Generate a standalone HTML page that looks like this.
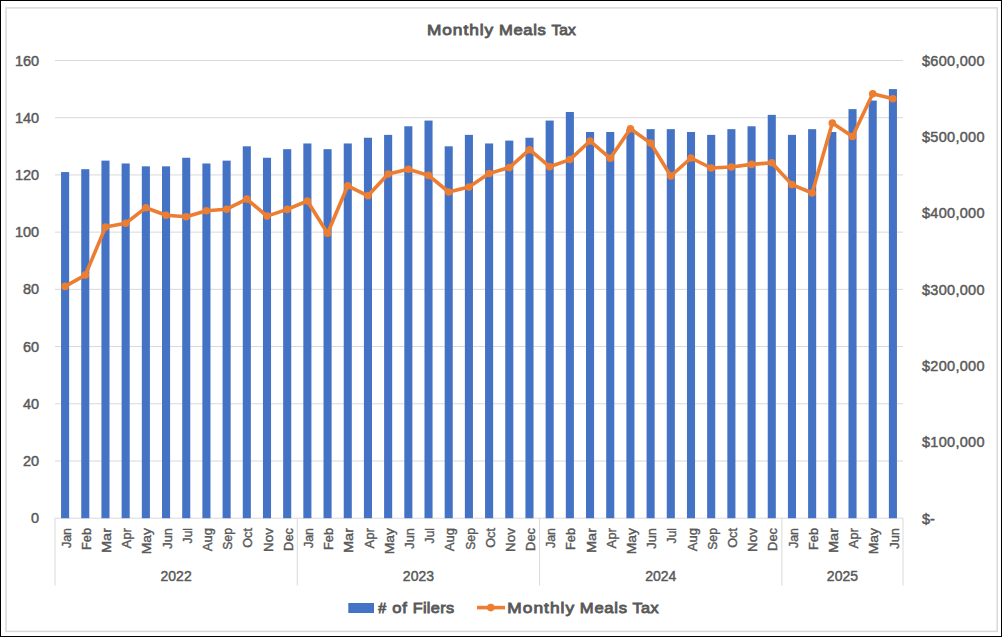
<!DOCTYPE html>
<html><head><meta charset="utf-8"><title>Monthly Meals Tax</title>
<style>
html,body{margin:0;padding:0;background:#fff;}
body{width:1002px;height:637px;overflow:hidden;}
svg{display:block;font-family:"Liberation Sans", sans-serif;}
#w{width:1002px;height:637px;}
text{stroke:#595959;stroke-width:0.45px;}
text.b{stroke-width:0.85px;}
text.m{stroke-width:0.4px;}
</style></head>
<body>
<div id="w">
<svg width="1002" height="637" viewBox="0 0 1002 637">
<rect x="0.5" y="0.5" width="1001" height="636" fill="#fff" stroke="#000" stroke-width="1"/>
<rect x="6" y="7.9" width="991.2" height="623.5" fill="none" stroke="#d9d9d9" stroke-width="1.5"/>
<text class="b" transform="translate(426.88,35.4) scale(1.1139,1)" letter-spacing="0.89" font-size="15.5" fill="#595959">Monthly</text>
<text class="b" transform="translate(498.91,35.4) scale(1.0703,1)" letter-spacing="0.63" font-size="15.5" fill="#595959">Meals</text>
<text class="b" transform="translate(551.58,35.4) scale(1.0011,1)" letter-spacing="0.01" font-size="15.5" fill="#595959">Tax</text>
<line x1="55.0" x2="903.0" y1="460.99" y2="460.99" stroke="#d9d9d9" stroke-width="1"/>
<line x1="55.0" x2="903.0" y1="403.78" y2="403.78" stroke="#d9d9d9" stroke-width="1"/>
<line x1="55.0" x2="903.0" y1="346.56" y2="346.56" stroke="#d9d9d9" stroke-width="1"/>
<line x1="55.0" x2="903.0" y1="289.35" y2="289.35" stroke="#d9d9d9" stroke-width="1"/>
<line x1="55.0" x2="903.0" y1="232.14" y2="232.14" stroke="#d9d9d9" stroke-width="1"/>
<line x1="55.0" x2="903.0" y1="174.93" y2="174.93" stroke="#d9d9d9" stroke-width="1"/>
<line x1="55.0" x2="903.0" y1="117.71" y2="117.71" stroke="#d9d9d9" stroke-width="1"/>
<line x1="55.0" x2="903.0" y1="60.5" y2="60.5" stroke="#d9d9d9" stroke-width="1"/>
<line x1="55.0" x2="903.0" y1="518.2" y2="518.2" stroke="#d9d9d9" stroke-width="1"/>
<line x1="55" x2="55" y1="518.2" y2="585.5" stroke="#d9d9d9" stroke-width="1"/>
<line x1="297.29" x2="297.29" y1="518.2" y2="585.5" stroke="#d9d9d9" stroke-width="1"/>
<line x1="539.57" x2="539.57" y1="518.2" y2="585.5" stroke="#d9d9d9" stroke-width="1"/>
<line x1="781.86" x2="781.86" y1="518.2" y2="585.5" stroke="#d9d9d9" stroke-width="1"/>
<line x1="903" x2="903" y1="518.2" y2="585.5" stroke="#d9d9d9" stroke-width="1"/>
<rect x="61.06" y="172.06" width="8.08" height="346.14" fill="#4472c4"/>
<rect x="81.25" y="169.2" width="8.08" height="349" fill="#4472c4"/>
<rect x="101.44" y="160.62" width="8.08" height="357.58" fill="#4472c4"/>
<rect x="121.63" y="163.48" width="8.08" height="354.72" fill="#4472c4"/>
<rect x="141.82" y="166.34" width="8.08" height="351.86" fill="#4472c4"/>
<rect x="162.01" y="166.34" width="8.08" height="351.86" fill="#4472c4"/>
<rect x="182.2" y="157.76" width="8.08" height="360.44" fill="#4472c4"/>
<rect x="202.39" y="163.48" width="8.08" height="354.72" fill="#4472c4"/>
<rect x="222.58" y="160.62" width="8.08" height="357.58" fill="#4472c4"/>
<rect x="242.77" y="146.32" width="8.08" height="371.88" fill="#4472c4"/>
<rect x="262.96" y="157.76" width="8.08" height="360.44" fill="#4472c4"/>
<rect x="283.15" y="149.18" width="8.08" height="369.02" fill="#4472c4"/>
<rect x="303.34" y="143.46" width="8.08" height="374.74" fill="#4472c4"/>
<rect x="323.53" y="149.18" width="8.08" height="369.02" fill="#4472c4"/>
<rect x="343.72" y="143.46" width="8.08" height="374.74" fill="#4472c4"/>
<rect x="363.91" y="137.74" width="8.08" height="380.46" fill="#4472c4"/>
<rect x="384.1" y="134.88" width="8.08" height="383.32" fill="#4472c4"/>
<rect x="404.3" y="126.29" width="8.08" height="391.91" fill="#4472c4"/>
<rect x="424.49" y="120.57" width="8.08" height="397.63" fill="#4472c4"/>
<rect x="444.68" y="146.32" width="8.08" height="371.88" fill="#4472c4"/>
<rect x="464.87" y="134.88" width="8.08" height="383.32" fill="#4472c4"/>
<rect x="485.06" y="143.46" width="8.08" height="374.74" fill="#4472c4"/>
<rect x="505.25" y="140.6" width="8.08" height="377.6" fill="#4472c4"/>
<rect x="525.44" y="137.74" width="8.08" height="380.46" fill="#4472c4"/>
<rect x="545.63" y="120.57" width="8.08" height="397.63" fill="#4472c4"/>
<rect x="565.82" y="111.99" width="8.08" height="406.21" fill="#4472c4"/>
<rect x="586.01" y="132.02" width="8.08" height="386.18" fill="#4472c4"/>
<rect x="606.2" y="132.02" width="8.08" height="386.18" fill="#4472c4"/>
<rect x="626.39" y="129.16" width="8.08" height="389.04" fill="#4472c4"/>
<rect x="646.58" y="129.16" width="8.08" height="389.04" fill="#4472c4"/>
<rect x="666.77" y="129.16" width="8.08" height="389.04" fill="#4472c4"/>
<rect x="686.96" y="132.02" width="8.08" height="386.18" fill="#4472c4"/>
<rect x="707.15" y="134.88" width="8.08" height="383.32" fill="#4472c4"/>
<rect x="727.34" y="129.16" width="8.08" height="389.04" fill="#4472c4"/>
<rect x="747.53" y="126.29" width="8.08" height="391.91" fill="#4472c4"/>
<rect x="767.72" y="114.85" width="8.08" height="403.35" fill="#4472c4"/>
<rect x="787.91" y="134.88" width="8.08" height="383.32" fill="#4472c4"/>
<rect x="808.1" y="129.16" width="8.08" height="389.04" fill="#4472c4"/>
<rect x="828.3" y="132.02" width="8.08" height="386.18" fill="#4472c4"/>
<rect x="848.49" y="109.13" width="8.08" height="409.07" fill="#4472c4"/>
<rect x="868.68" y="100.55" width="8.08" height="417.65" fill="#4472c4"/>
<rect x="888.87" y="89.11" width="8.08" height="429.09" fill="#4472c4"/>
<polyline points="65.1,286.4 85.29,275.1 105.48,227.1 125.67,223.3 145.86,207.7 166.05,215.2 186.24,216.7 206.43,210.7 226.62,209.2 246.81,199.1 267,216.1 287.19,209.4 307.38,201 327.57,233.2 347.76,185.8 367.95,195.8 388.14,174 408.33,169.2 428.52,175.4 448.71,192 468.9,187.1 489.1,173.5 509.29,167.6 529.48,149.7 549.67,166.7 569.86,159.6 590.05,141 610.24,158.3 630.43,128.8 650.62,143.1 670.81,176 691,158 711.19,168 731.38,167 751.57,164.4 771.76,162.8 791.95,184.6 812.14,193 832.33,123 852.52,136.5 872.71,93.8 892.9,98.8" fill="none" stroke="#ed7d31" stroke-width="3.6" stroke-linejoin="round" stroke-linecap="round"/>
<circle cx="65.1" cy="286.4" r="3.8" fill="#ed7d31"/>
<circle cx="85.29" cy="275.1" r="3.8" fill="#ed7d31"/>
<circle cx="105.48" cy="227.1" r="3.8" fill="#ed7d31"/>
<circle cx="125.67" cy="223.3" r="3.8" fill="#ed7d31"/>
<circle cx="145.86" cy="207.7" r="3.8" fill="#ed7d31"/>
<circle cx="166.05" cy="215.2" r="3.8" fill="#ed7d31"/>
<circle cx="186.24" cy="216.7" r="3.8" fill="#ed7d31"/>
<circle cx="206.43" cy="210.7" r="3.8" fill="#ed7d31"/>
<circle cx="226.62" cy="209.2" r="3.8" fill="#ed7d31"/>
<circle cx="246.81" cy="199.1" r="3.8" fill="#ed7d31"/>
<circle cx="267" cy="216.1" r="3.8" fill="#ed7d31"/>
<circle cx="287.19" cy="209.4" r="3.8" fill="#ed7d31"/>
<circle cx="307.38" cy="201" r="3.8" fill="#ed7d31"/>
<circle cx="327.57" cy="233.2" r="3.8" fill="#ed7d31"/>
<circle cx="347.76" cy="185.8" r="3.8" fill="#ed7d31"/>
<circle cx="367.95" cy="195.8" r="3.8" fill="#ed7d31"/>
<circle cx="388.14" cy="174" r="3.8" fill="#ed7d31"/>
<circle cx="408.33" cy="169.2" r="3.8" fill="#ed7d31"/>
<circle cx="428.52" cy="175.4" r="3.8" fill="#ed7d31"/>
<circle cx="448.71" cy="192" r="3.8" fill="#ed7d31"/>
<circle cx="468.9" cy="187.1" r="3.8" fill="#ed7d31"/>
<circle cx="489.1" cy="173.5" r="3.8" fill="#ed7d31"/>
<circle cx="509.29" cy="167.6" r="3.8" fill="#ed7d31"/>
<circle cx="529.48" cy="149.7" r="3.8" fill="#ed7d31"/>
<circle cx="549.67" cy="166.7" r="3.8" fill="#ed7d31"/>
<circle cx="569.86" cy="159.6" r="3.8" fill="#ed7d31"/>
<circle cx="590.05" cy="141" r="3.8" fill="#ed7d31"/>
<circle cx="610.24" cy="158.3" r="3.8" fill="#ed7d31"/>
<circle cx="630.43" cy="128.8" r="3.8" fill="#ed7d31"/>
<circle cx="650.62" cy="143.1" r="3.8" fill="#ed7d31"/>
<circle cx="670.81" cy="176" r="3.8" fill="#ed7d31"/>
<circle cx="691" cy="158" r="3.8" fill="#ed7d31"/>
<circle cx="711.19" cy="168" r="3.8" fill="#ed7d31"/>
<circle cx="731.38" cy="167" r="3.8" fill="#ed7d31"/>
<circle cx="751.57" cy="164.4" r="3.8" fill="#ed7d31"/>
<circle cx="771.76" cy="162.8" r="3.8" fill="#ed7d31"/>
<circle cx="791.95" cy="184.6" r="3.8" fill="#ed7d31"/>
<circle cx="812.14" cy="193" r="3.8" fill="#ed7d31"/>
<circle cx="832.33" cy="123" r="3.8" fill="#ed7d31"/>
<circle cx="852.52" cy="136.5" r="3.8" fill="#ed7d31"/>
<circle cx="872.71" cy="93.8" r="3.8" fill="#ed7d31"/>
<circle cx="892.9" cy="98.8" r="3.8" fill="#ed7d31"/>
<text x="39.2" y="523.2" text-anchor="end" font-size="14.5" fill="#595959">0</text>
<text x="39.2" y="465.99" text-anchor="end" font-size="14.5" fill="#595959">20</text>
<text x="39.2" y="408.78" text-anchor="end" font-size="14.5" fill="#595959">40</text>
<text x="39.2" y="351.56" text-anchor="end" font-size="14.5" fill="#595959">60</text>
<text x="39.2" y="294.35" text-anchor="end" font-size="14.5" fill="#595959">80</text>
<text x="39.2" y="237.14" text-anchor="end" font-size="14.5" fill="#595959">100</text>
<text x="39.2" y="179.93" text-anchor="end" font-size="14.5" fill="#595959">120</text>
<text x="39.2" y="122.71" text-anchor="end" font-size="14.5" fill="#595959">140</text>
<text x="39.2" y="65.5" text-anchor="end" font-size="14.5" fill="#595959">160</text>
<text x="922" y="523.5" font-size="14.5" fill="#595959">$-</text>
<text x="922" y="447.22" textLength="62.5" font-size="14.5" fill="#595959">$100,000</text>
<text x="922" y="370.93" textLength="62.5" font-size="14.5" fill="#595959">$200,000</text>
<text x="922" y="294.65" textLength="62.5" font-size="14.5" fill="#595959">$300,000</text>
<text x="922" y="218.37" textLength="62.5" font-size="14.5" fill="#595959">$400,000</text>
<text x="922" y="142.08" textLength="62.5" font-size="14.5" fill="#595959">$500,000</text>
<text x="922" y="65.8" textLength="62.5" font-size="14.5" fill="#595959">$600,000</text>
<text class="m" transform="translate(70.7,528) rotate(-90)" text-anchor="end" textLength="20.1" lengthAdjust="spacingAndGlyphs" font-size="13.5" fill="#595959">Jan</text>
<text class="m" transform="translate(90.89,528) rotate(-90)" text-anchor="end" textLength="21.9" lengthAdjust="spacingAndGlyphs" font-size="13.5" fill="#595959">Feb</text>
<text class="m" transform="translate(111.08,528) rotate(-90)" text-anchor="end" textLength="25.1" lengthAdjust="spacingAndGlyphs" font-size="13.5" fill="#595959">Mar</text>
<text class="m" transform="translate(131.27,528) rotate(-90)" text-anchor="end" textLength="20.6" lengthAdjust="spacingAndGlyphs" font-size="13.5" fill="#595959">Apr</text>
<text class="m" transform="translate(151.46,528) rotate(-90)" text-anchor="end" textLength="26.3" lengthAdjust="spacingAndGlyphs" font-size="13.5" fill="#595959">May</text>
<text class="m" transform="translate(171.65,528) rotate(-90)" text-anchor="end" textLength="20.7" lengthAdjust="spacingAndGlyphs" font-size="13.5" fill="#595959">Jun</text>
<text class="m" transform="translate(191.84,528) rotate(-90)" text-anchor="end" textLength="15.4" lengthAdjust="spacingAndGlyphs" font-size="13.5" fill="#595959">Jul</text>
<text class="m" transform="translate(212.03,528) rotate(-90)" text-anchor="end" textLength="23.3" lengthAdjust="spacingAndGlyphs" font-size="13.5" fill="#595959">Aug</text>
<text class="m" transform="translate(232.22,528) rotate(-90)" text-anchor="end" textLength="21.8" lengthAdjust="spacingAndGlyphs" font-size="13.5" fill="#595959">Sep</text>
<text class="m" transform="translate(252.41,528) rotate(-90)" text-anchor="end" textLength="19.8" lengthAdjust="spacingAndGlyphs" font-size="13.5" fill="#595959">Oct</text>
<text class="m" transform="translate(272.6,528) rotate(-90)" text-anchor="end" textLength="23.9" lengthAdjust="spacingAndGlyphs" font-size="13.5" fill="#595959">Nov</text>
<text class="m" transform="translate(292.79,528) rotate(-90)" text-anchor="end" textLength="22.9" lengthAdjust="spacingAndGlyphs" font-size="13.5" fill="#595959">Dec</text>
<text class="m" transform="translate(312.98,528) rotate(-90)" text-anchor="end" textLength="20.1" lengthAdjust="spacingAndGlyphs" font-size="13.5" fill="#595959">Jan</text>
<text class="m" transform="translate(333.17,528) rotate(-90)" text-anchor="end" textLength="21.9" lengthAdjust="spacingAndGlyphs" font-size="13.5" fill="#595959">Feb</text>
<text class="m" transform="translate(353.36,528) rotate(-90)" text-anchor="end" textLength="25.1" lengthAdjust="spacingAndGlyphs" font-size="13.5" fill="#595959">Mar</text>
<text class="m" transform="translate(373.55,528) rotate(-90)" text-anchor="end" textLength="20.6" lengthAdjust="spacingAndGlyphs" font-size="13.5" fill="#595959">Apr</text>
<text class="m" transform="translate(393.74,528) rotate(-90)" text-anchor="end" textLength="26.3" lengthAdjust="spacingAndGlyphs" font-size="13.5" fill="#595959">May</text>
<text class="m" transform="translate(413.93,528) rotate(-90)" text-anchor="end" textLength="20.7" lengthAdjust="spacingAndGlyphs" font-size="13.5" fill="#595959">Jun</text>
<text class="m" transform="translate(434.12,528) rotate(-90)" text-anchor="end" textLength="15.4" lengthAdjust="spacingAndGlyphs" font-size="13.5" fill="#595959">Jul</text>
<text class="m" transform="translate(454.31,528) rotate(-90)" text-anchor="end" textLength="23.3" lengthAdjust="spacingAndGlyphs" font-size="13.5" fill="#595959">Aug</text>
<text class="m" transform="translate(474.5,528) rotate(-90)" text-anchor="end" textLength="21.8" lengthAdjust="spacingAndGlyphs" font-size="13.5" fill="#595959">Sep</text>
<text class="m" transform="translate(494.7,528) rotate(-90)" text-anchor="end" textLength="19.8" lengthAdjust="spacingAndGlyphs" font-size="13.5" fill="#595959">Oct</text>
<text class="m" transform="translate(514.89,528) rotate(-90)" text-anchor="end" textLength="23.9" lengthAdjust="spacingAndGlyphs" font-size="13.5" fill="#595959">Nov</text>
<text class="m" transform="translate(535.08,528) rotate(-90)" text-anchor="end" textLength="22.9" lengthAdjust="spacingAndGlyphs" font-size="13.5" fill="#595959">Dec</text>
<text class="m" transform="translate(555.27,528) rotate(-90)" text-anchor="end" textLength="20.1" lengthAdjust="spacingAndGlyphs" font-size="13.5" fill="#595959">Jan</text>
<text class="m" transform="translate(575.46,528) rotate(-90)" text-anchor="end" textLength="21.9" lengthAdjust="spacingAndGlyphs" font-size="13.5" fill="#595959">Feb</text>
<text class="m" transform="translate(595.65,528) rotate(-90)" text-anchor="end" textLength="25.1" lengthAdjust="spacingAndGlyphs" font-size="13.5" fill="#595959">Mar</text>
<text class="m" transform="translate(615.84,528) rotate(-90)" text-anchor="end" textLength="20.6" lengthAdjust="spacingAndGlyphs" font-size="13.5" fill="#595959">Apr</text>
<text class="m" transform="translate(636.03,528) rotate(-90)" text-anchor="end" textLength="26.3" lengthAdjust="spacingAndGlyphs" font-size="13.5" fill="#595959">May</text>
<text class="m" transform="translate(656.22,528) rotate(-90)" text-anchor="end" textLength="20.7" lengthAdjust="spacingAndGlyphs" font-size="13.5" fill="#595959">Jun</text>
<text class="m" transform="translate(676.41,528) rotate(-90)" text-anchor="end" textLength="15.4" lengthAdjust="spacingAndGlyphs" font-size="13.5" fill="#595959">Jul</text>
<text class="m" transform="translate(696.6,528) rotate(-90)" text-anchor="end" textLength="23.3" lengthAdjust="spacingAndGlyphs" font-size="13.5" fill="#595959">Aug</text>
<text class="m" transform="translate(716.79,528) rotate(-90)" text-anchor="end" textLength="21.8" lengthAdjust="spacingAndGlyphs" font-size="13.5" fill="#595959">Sep</text>
<text class="m" transform="translate(736.98,528) rotate(-90)" text-anchor="end" textLength="19.8" lengthAdjust="spacingAndGlyphs" font-size="13.5" fill="#595959">Oct</text>
<text class="m" transform="translate(757.17,528) rotate(-90)" text-anchor="end" textLength="23.9" lengthAdjust="spacingAndGlyphs" font-size="13.5" fill="#595959">Nov</text>
<text class="m" transform="translate(777.36,528) rotate(-90)" text-anchor="end" textLength="22.9" lengthAdjust="spacingAndGlyphs" font-size="13.5" fill="#595959">Dec</text>
<text class="m" transform="translate(797.55,528) rotate(-90)" text-anchor="end" textLength="20.1" lengthAdjust="spacingAndGlyphs" font-size="13.5" fill="#595959">Jan</text>
<text class="m" transform="translate(817.74,528) rotate(-90)" text-anchor="end" textLength="21.9" lengthAdjust="spacingAndGlyphs" font-size="13.5" fill="#595959">Feb</text>
<text class="m" transform="translate(837.93,528) rotate(-90)" text-anchor="end" textLength="25.1" lengthAdjust="spacingAndGlyphs" font-size="13.5" fill="#595959">Mar</text>
<text class="m" transform="translate(858.12,528) rotate(-90)" text-anchor="end" textLength="20.6" lengthAdjust="spacingAndGlyphs" font-size="13.5" fill="#595959">Apr</text>
<text class="m" transform="translate(878.31,528) rotate(-90)" text-anchor="end" textLength="26.3" lengthAdjust="spacingAndGlyphs" font-size="13.5" fill="#595959">May</text>
<text class="m" transform="translate(898.5,528) rotate(-90)" text-anchor="end" textLength="20.7" lengthAdjust="spacingAndGlyphs" font-size="13.5" fill="#595959">Jun</text>
<text x="176.14" y="581" text-anchor="middle" font-size="14" fill="#595959">2022</text>
<text x="418.43" y="581" text-anchor="middle" font-size="14" fill="#595959">2023</text>
<text x="660.71" y="581" text-anchor="middle" font-size="14" fill="#595959">2024</text>
<text x="842.43" y="581" text-anchor="middle" font-size="14" fill="#595959">2025</text>
<rect x="348.3" y="603" width="25.7" height="10" fill="#4472c4"/>
<text class="b" transform="translate(378.35,613.4) scale(0.9189,1)" letter-spacing="0.00" font-size="15.5" fill="#595959">#</text>
<text class="b" transform="translate(392.16,613.4) scale(1.0717,1)" letter-spacing="0.76" font-size="15.5" fill="#595959">of</text>
<text class="b" transform="translate(412.63,613.4) scale(1.0493,1)" letter-spacing="0.33" font-size="15.5" fill="#595959">Filers</text>
<line x1="477" x2="505" y1="607.6" y2="607.6" stroke="#ed7d31" stroke-width="3.6"/>
<circle cx="490.8" cy="607.6" r="3.8" fill="#ed7d31"/>
<text class="b" transform="translate(507.27,613.4) scale(1.1186,1)" letter-spacing="0.92" font-size="15.5" fill="#595959">Monthly</text>
<text class="b" transform="translate(579.81,613.4) scale(1.0741,1)" letter-spacing="0.67" font-size="15.5" fill="#595959">Meals</text>
<text class="b" transform="translate(632.38,613.4) scale(1.0477,1)" letter-spacing="0.52" font-size="15.5" fill="#595959">Tax</text>
</svg>
</div>
</body></html>
